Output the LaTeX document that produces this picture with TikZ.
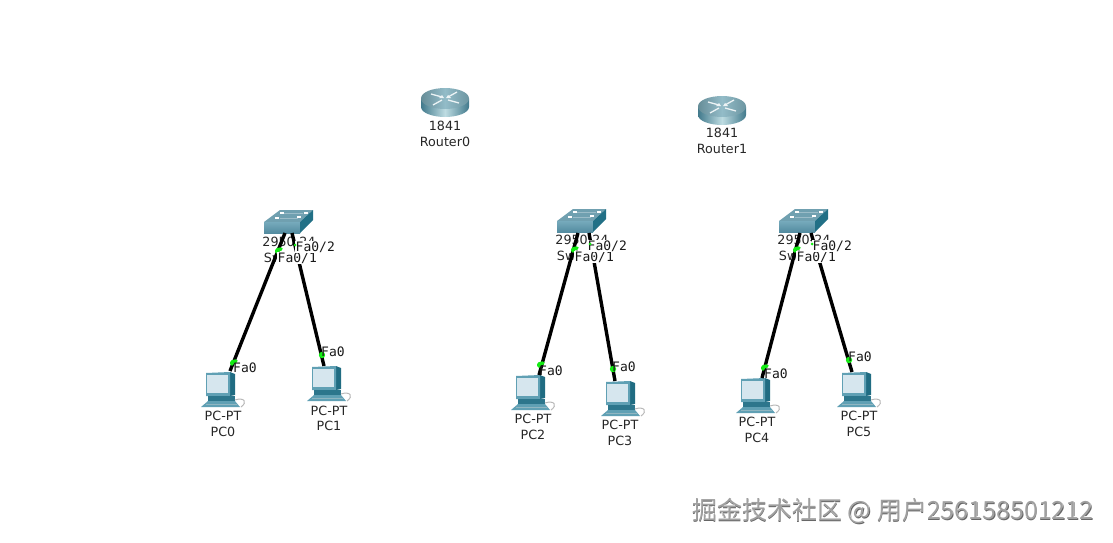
\documentclass[tikz,border=0pt]{standalone}
\usepackage{fontspec}
\setmainfont{DejaVu Sans}
\newfontfamily\portfont{DejaVu Sans Mono}
\newfontfamily\cjkfont{Noto Sans CJK SC}
\usetikzlibrary{calc}
\definecolor{swtop}{RGB}{112,160,176}
\definecolor{swfront}{RGB}{118,170,188}
\definecolor{swfrontb}{RGB}{84,140,160}
\definecolor{swside}{RGB}{34,112,134}
\definecolor{rtlight}{RGB}{190,220,226}
\definecolor{rtmid}{RGB}{128,176,190}
\definecolor{rtdark}{RGB}{66,122,140}
\definecolor{pcframe}{RGB}{96,160,180}
\definecolor{pcdark}{RGB}{32,108,130}
\definecolor{pcscreen}{RGB}{214,230,238}
\definecolor{linkgreen}{RGB}{20,235,20}
\definecolor{wm}{RGB}{160,160,160}
\tikzset{
  x=1pt,y=-1pt,
  devtext/.style={font=\fontsize{12.7}{14}\selectfont,inner sep=0pt,text=black!85},
  porttext/.style={font=\portfont\fontsize{13}{14}\selectfont,inner sep=0pt,text=black!90},
  portmask/.style={porttext,fill=white,inner ysep=0.5pt,inner xsep=0.5pt},
  cable/.style={draw=black,line width=3.4pt},
  lightend/.style={draw=linkgreen,line width=3.6pt,line cap=round,line join=round},
  wmark/.style={font=\cjkfont\fontsize{25}{27}\selectfont,inner sep=0pt,anchor=west},
  switchicon/.pic={
    \fill[swtop] (-25,0) -- (-9,-12) -- (24,-12) -- (11,0) -- cycle;
    \shade[top color=swfront,bottom color=swfrontb] (-25,0) -- (11,0) -- (11,11) -- (-25,11) -- cycle;
    \fill[swside] (11,0) -- (24,-12) -- (24,-2) -- (11,11) -- cycle;
    \draw[swtop!70!white,line width=0.7pt] (-9,-4) -- (9,-4) (-6,-9) -- (14,-9);
    \draw[white,line width=1.2pt] (-14,-4) -- (-10,-4) (-9,-9) -- (-5,-9) (8,-5) -- (12,-5) (15,-9) -- (19,-9);
  },
  routericon/.pic={
    \shade[left color=rtdark,right color=rtdark,middle color=rtlight]
      (-24,-2.5) -- (-24,6) .. controls (-24,12) and (-12,16) .. (0,16)
      .. controls (12,16) and (24,12) .. (24,6) -- (24,-2.5) -- cycle;
    \shade[left color=rtmid!80!black,right color=rtmid!85!black,middle color=rtmid!85!white]
      (-24,-2.5) .. controls (-24,-9) and (-12,-13) .. (0,-13)
      .. controls (12,-13) and (24,-9) .. (24,-2.5)
      .. controls (24,4) and (12,8) .. (0,8)
      .. controls (-12,8) and (-24,4) .. (-24,-2.5) -- cycle;
    \draw[white!85!rtmid,line width=1.3pt] (-14,-7) -- (-3,-4) (14,2) -- (3,-1) (12,-9) -- (3,-4) (-12,4) -- (-3,-1);
    \fill[white!85!rtmid] (-3,-6) -- (-1,-3) -- (-6,-3) -- cycle (3,-6) -- (1,-3) -- (6,-3) -- cycle;
  },
  pcicon/.pic={
    \fill[pcdark] (10,0) -- (15,2) -- (15,23) -- (10,24) -- cycle;
    \fill[pcframe] (-14,1) -- (10,0) -- (10,24) -- (-14,24) -- cycle;
    \fill[pcscreen] (-13,3) -- (8,3) -- (8,21) -- (-13,21) -- cycle;
    \fill[pcdark!80!pcframe] (-12,24) -- (15,24) -- (15,29) -- (-12,29) -- cycle;
    \fill[pcframe] (-12,29) -- (15,29) -- (20,35) -- (-19,35) -- cycle;
    \draw[white!50!pcdark,line width=0.9pt] (-14,32) -- (17,32);
    \draw[gray!55,line width=1pt] (15,28) .. controls (24,25) and (28,30) .. (21,35);
  }
}
\begin{document}
\begin{tikzpicture}
\useasboundingbox (0,0) rectangle (1113,543);
% routers
\pic at (445,101) {routericon};
\pic at (722,109) {routericon};
\node[devtext] (r0a) at (445,126) {1841};
\node[devtext] (r0b) at (445,142) {Router0};
\node[devtext] (r1a) at (722,133) {1841};
\node[devtext] (r1b) at (722,149) {Router1};
% switches
\pic at (289,222) {switchicon};
\pic at (582,221) {switchicon};
\pic at (804,221) {switchicon};
\node[devtext] (s0a) at (289,242) {2950-24};
\node[devtext] (s0b) at (289,258) {Switch0};
\node[devtext] (s1a) at (582,240) {2950-24};
\node[devtext] (s1b) at (582,256) {Switch1};
\node[devtext] (s2a) at (804,240) {2950-24};
\node[devtext] (s2b) at (804,256) {Switch2};
% PCs
\pic at (220,372) {pcicon};
\pic at (326,366) {pcicon};
\pic at (530,375) {pcicon};
\pic at (620,381) {pcicon};
\pic at (755,378) {pcicon};
\pic at (856,372) {pcicon};
\foreach \nm/\x/\ya/\yb/\lab in {p0/223/416/432/PC0,p1/329/411/426/PC1,p2/533/419/435/PC2,p3/620/425/441/PC3,p4/757/422/438/PC4,p5/859/416/432/PC5}{
  \node[devtext] (\nm a) at (\x,\ya) {PC-PT};
  \node[devtext] (\nm b) at (\x,\yb) {\lab};
}
% connector ends
\coordinate (sw0l) at (285,233); \coordinate (pc0t) at (230,371);
\coordinate (sw0r) at (292,233); \coordinate (pc1t) at (324,366);
\coordinate (sw1l) at (578,233); \coordinate (pc2t) at (539,375);
\coordinate (sw1r) at (589,233); \coordinate (pc3t) at (615,381);
\coordinate (sw2l) at (800,233); \coordinate (pc4t) at (762,378);
\coordinate (sw2r) at (811,233); \coordinate (pc5t) at (852,372);
\draw[cable] (sw0l) -- (pc0t);
\draw[cable] (sw0r) -- (pc1t);
\draw[cable] (sw1l) -- (pc2t);
\draw[cable] (sw1r) -- (pc3t);
\draw[cable] (sw2l) -- (pc4t);
\draw[cable] (sw2r) -- (pc5t);
% link lights
\foreach \x/\y in {277/252,573/251,795/251,232/364,539/366,763/369}{
  \draw[lightend] (\x,\y) -- (\x,\y-2) -- (\x+4,\y-3);
}
\foreach \x/\y in {322/355,613/369,849/360}{
  \fill[linkgreen] (\x,\y) circle[radius=3.2];
}
% port labels
\node[portmask,anchor=west] (l01) at (277,258) {Fa0/1};
\node[portmask,anchor=west] (l11) at (574,257) {Fa0/1};
\node[portmask,anchor=west] (l21) at (796,257) {Fa0/1};
\node[portmask,anchor=west] (l02) at (295,247) {Fa0/2};
\node[portmask,anchor=west] (l12) at (587,246) {Fa0/2};
\node[portmask,anchor=west] (l22) at (812,246) {Fa0/2};
\foreach \x/\y in {295/245,590/244,812/244}{
  \fill[linkgreen] (\x,\y) circle[radius=1.5];
}
\foreach \nm/\x/\y in {f0/233/368,f1/321/352,f2/539/371,f3/612/367,f4/764/374,f5/848/357}{
  \node[porttext,anchor=west] (\nm) at (\x,\y) {Fa0};
}
% watermark
\node[wmark,text=black!60] (wa) at (692.7,511.7) {掘金技术社区 @ 用户256158501212};
\node[wmark,text=white] (wb) at (691.4,510.4) {掘金技术社区 @ 用户256158501212};
\node[wmark,text=wm] (wc) at (692,511) {掘金技术社区 @ 用户256158501212};
\end{tikzpicture}
\end{document}
